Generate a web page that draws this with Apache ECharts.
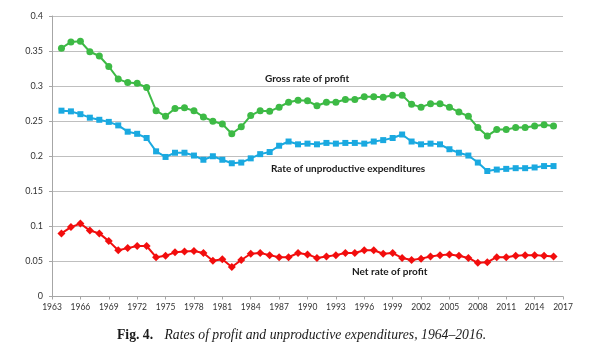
<!DOCTYPE html>
<html><head><meta charset="utf-8">
<script src="https://cdn.jsdelivr.net/npm/echarts@6/dist/echarts.min.js"></script>
<style>html,body{margin:0;padding:0;background:#fff}#c{width:602px;height:345px}</style>
</head><body><div id="c"></div>
<script>
// axis categories (years) and tick labels
const years = [];
for (let y = 1963; y <= 2017; y++) years.push(String(y));
const yTicks = [0, 0.05, 0.1, 0.15, 0.2, 0.25, 0.3, 0.35, 0.4];

// data years 1964..2016
const grossRate = [0.354,0.363,0.364,0.349,0.343,0.328,0.310,0.305,0.304,0.298,
  0.265,0.257,0.268,0.269,0.265,0.256,0.250,0.246,0.232,0.242,
  0.258,0.265,0.264,0.270,0.277,0.280,0.279,0.272,0.277,0.277,
  0.281,0.281,0.285,0.285,0.284,0.287,0.287,0.274,0.270,0.275,
  0.275,0.270,0.263,0.257,0.241,0.229,0.238,0.238,0.241,0.241,
  0.243,0.245,0.243];
const unprodRate = [0.265,0.264,0.260,0.255,0.252,0.249,0.244,0.235,0.232,0.226,
  0.207,0.199,0.205,0.205,0.201,0.195,0.200,0.195,0.190,0.191,
  0.197,0.203,0.206,0.215,0.221,0.217,0.218,0.217,0.219,0.218,
  0.219,0.219,0.218,0.221,0.223,0.226,0.231,0.221,0.217,0.218,
  0.217,0.210,0.205,0.201,0.191,0.179,0.181,0.182,0.183,0.183,
  0.184,0.186,0.186];
const netRate = [0.090,0.099,0.104,0.094,0.090,0.079,0.066,0.069,0.072,0.072,
  0.056,0.058,0.063,0.064,0.065,0.062,0.051,0.053,0.042,0.052,
  0.061,0.062,0.059,0.056,0.056,0.062,0.060,0.055,0.057,0.059,
  0.062,0.062,0.066,0.066,0.061,0.062,0.055,0.052,0.054,0.057,
  0.059,0.060,0.058,0.055,0.048,0.049,0.056,0.056,0.058,0.059,
  0.059,0.058,0.057];

function pad(arr){ return [null].concat(arr, [null]); }

const sans = 'Lato, "Open Sans", sans-serif';
const chart = echarts.init(document.getElementById('c'), null, {renderer:'canvas'});
chart.setOption({
  animation:false,
  backgroundColor:'#fff',
  grid:{left:52, right:39, top:16, bottom:48.5},
  xAxis:{
    type:'category', data:years, boundaryGap:false,
    axisLine:{lineStyle:{color:'#a6a6a6', width:1}},
    axisTick:{interval:2, length:3, lineStyle:{color:'#a6a6a6'}},
    axisLabel:{interval:2, color:'#333', fontFamily:sans, fontSize:8.5, margin:6}
  },
  yAxis:{
    type:'value', min:yTicks[0], max:yTicks[yTicks.length-1], interval:0.05,
    axisLine:{show:true, lineStyle:{color:'#a6a6a6'}},
    axisTick:{show:true, length:3, lineStyle:{color:'#a6a6a6'}},
    splitLine:{lineStyle:{color:'#bfbfbf', width:1.2}},
    axisLabel:{color:'#333', fontFamily:sans, fontSize:9, margin:9,
      formatter:v=>String(+v.toFixed(2))}
  },
  series:[
    {name:'Gross rate of profit', type:'line', data:pad(grossRate), symbol:'circle', symbolSize:7,
      showSymbol:true, showAllSymbol:true,
      itemStyle:{color:'#3dba45'}, lineStyle:{color:'#3dba45', width:2}},
    {name:'Rate of unproductive expenditures', type:'line', data:pad(unprodRate), symbol:'rect', symbolSize:6,
      showSymbol:true, showAllSymbol:true,
      itemStyle:{color:'#1aa9e0'}, lineStyle:{color:'#1aa9e0', width:2}},
    {name:'Net rate of profit', type:'line', data:pad(netRate), symbol:'diamond', symbolSize:8,
      showSymbol:true, showAllSymbol:true,
      itemStyle:{color:'#f20d0d'}, lineStyle:{color:'#f20d0d', width:2}}
  ],
  graphic:[
    {type:'text', left:265, top:74, style:{text:'Gross rate of profit', fill:'#1a1a1a', font:'bold 10px '+sans}},
    {type:'text', left:271, top:163.5, style:{text:'Rate of unproductive expenditures', fill:'#1a1a1a', font:'bold 10px '+sans}},
    {type:'text', left:352, top:267, style:{text:'Net rate of profit', fill:'#1a1a1a', font:'bold 10px '+sans}},
    {type:'text', left:117, top:328, style:{
      text:'{b|Fig. 4.} {i|Rates of profit and unproductive expenditures, 1964–2016.}',
      rich:{
        b:{font:'bold 13.7px "Liberation Serif", serif', fill:'#1a1a1a', padding:[0,8,0,0]},
        i:{font:'italic 13.7px "Liberation Serif", serif', fill:'#1a1a1a'}
      }}}
  ]
});
</script></body></html>
